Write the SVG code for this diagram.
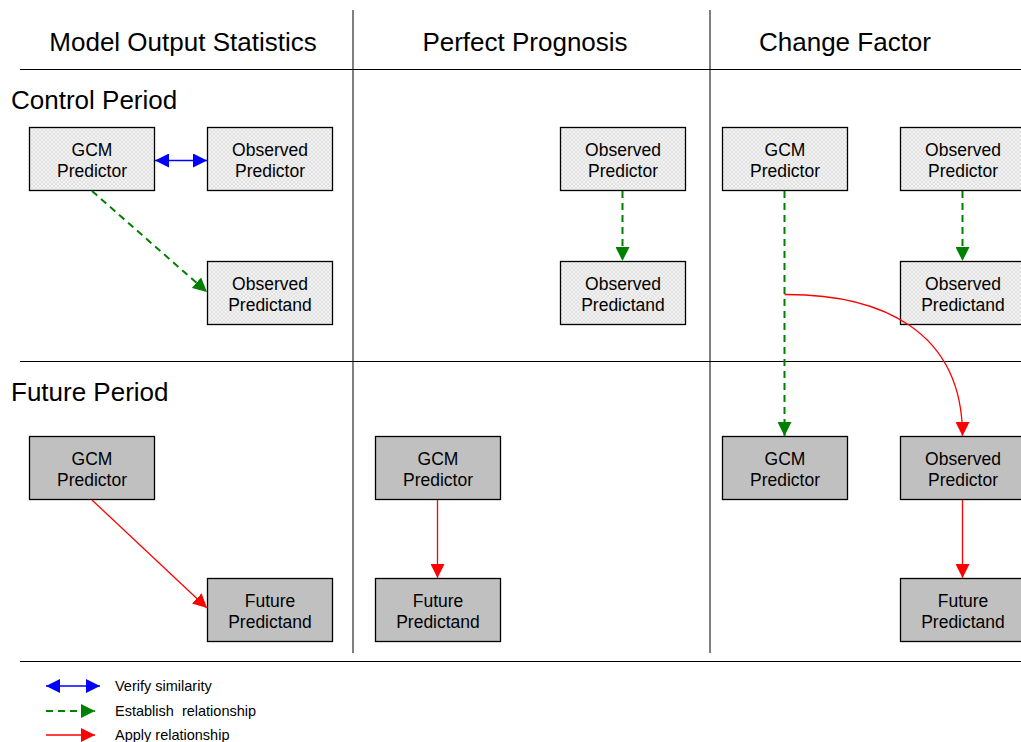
<svg xmlns="http://www.w3.org/2000/svg" width="1021" height="742" viewBox="0 0 1021 742">
<style>
.hdr{font-family:"Liberation Sans",Arial,sans-serif;font-size:26px;fill:#000}
.lbl{font-family:"Liberation Sans",Arial,sans-serif;font-size:17.5px;fill:#000;text-anchor:middle}
.leg{font-family:"Liberation Sans",Arial,sans-serif;font-size:14.5px;fill:#000}
.grid{stroke:#000;stroke-width:1;fill:none}
.ctl{fill:url(#hatch);stroke:#000;stroke-width:1.3}
.fut{fill:#c0c0c0;stroke:#000;stroke-width:1.3}
.blue{stroke:#0000ff;stroke-width:1.5;fill:none}
.green{stroke:#008000;stroke-width:2;stroke-dasharray:7,5;fill:none}
.red{stroke:#ff0000;stroke-width:1.3;fill:none}
</style>
<defs>
<pattern id="hatch" width="4" height="4" patternUnits="userSpaceOnUse">
<rect width="4" height="4" fill="#f2f2f2"/>
<path d="M0,0 L4,4 M4,0 L0,4" stroke="#d6d6d6" stroke-width="0.6"/>
</pattern>
<marker id="ab" viewBox="0 0 10 10" refX="10" refY="5" markerWidth="14" markerHeight="14" markerUnits="userSpaceOnUse" orient="auto-start-reverse"><path d="M0,0 L10,5 L0,10 z" fill="#0000ff"/></marker>
<marker id="ag" viewBox="0 0 10 10" refX="10" refY="5" markerWidth="14" markerHeight="14" markerUnits="userSpaceOnUse" orient="auto"><path d="M0,0 L10,5 L0,10 z" fill="#008000"/></marker>
<marker id="ar" viewBox="0 0 10 10" refX="10" refY="5" markerWidth="14" markerHeight="14" markerUnits="userSpaceOnUse" orient="auto"><path d="M0,0 L10,5 L0,10 z" fill="#ff0000"/></marker>
</defs>
<rect width="1021" height="742" fill="#fff"/>
<g id="grid">
<line class="grid" x1="353" y1="10" x2="353" y2="653"/>
<line class="grid" x1="710" y1="10" x2="710" y2="653"/>
<line class="grid" x1="20" y1="69.5" x2="1021" y2="69.5"/>
<line class="grid" x1="20" y1="361.5" x2="1021" y2="361.5"/>
<line class="grid" x1="20" y1="661.5" x2="1021" y2="661.5"/>
</g>
<g id="headers">
<text class="hdr" x="183" y="51" text-anchor="middle">Model Output Statistics</text>
<text class="hdr" x="525" y="51" text-anchor="middle">Perfect Prognosis</text>
<text class="hdr" x="845" y="51" text-anchor="middle">Change Factor</text>
<text class="hdr" x="11" y="109">Control Period</text>
<text class="hdr" x="11" y="401">Future Period</text>
</g>
<g id="mos-ctl-gcm"><rect class="ctl" x="29.5" y="127.5" width="125" height="63"/><text class="lbl" x="92" y="156">GCM</text><text class="lbl" x="92" y="177">Predictor</text></g>
<g id="mos-ctl-obs"><rect class="ctl" x="207.5" y="127.5" width="125" height="63"/><text class="lbl" x="270" y="156">Observed</text><text class="lbl" x="270" y="177">Predictor</text></g>
<g id="mos-ctl-obsand"><rect class="ctl" x="207.5" y="261.5" width="125" height="63"/><text class="lbl" x="270" y="290">Observed</text><text class="lbl" x="270" y="311">Predictand</text></g>
<g id="pp-ctl-obs"><rect class="ctl" x="560.5" y="127.5" width="125" height="63"/><text class="lbl" x="623" y="156">Observed</text><text class="lbl" x="623" y="177">Predictor</text></g>
<g id="pp-ctl-obsand"><rect class="ctl" x="560.5" y="261.5" width="125" height="63"/><text class="lbl" x="623" y="290">Observed</text><text class="lbl" x="623" y="311">Predictand</text></g>
<g id="cf-ctl-gcm"><rect class="ctl" x="722.5" y="127.5" width="125" height="63"/><text class="lbl" x="785" y="156">GCM</text><text class="lbl" x="785" y="177">Predictor</text></g>
<g id="cf-ctl-obs"><rect class="ctl" x="900.5" y="127.5" width="125" height="63"/><text class="lbl" x="963" y="156">Observed</text><text class="lbl" x="963" y="177">Predictor</text></g>
<g id="cf-ctl-obsand"><rect class="ctl" x="900.5" y="261.5" width="125" height="63"/><text class="lbl" x="963" y="290">Observed</text><text class="lbl" x="963" y="311">Predictand</text></g>
<g id="mos-fut-gcm"><rect class="fut" x="29.5" y="436.5" width="125" height="63"/><text class="lbl" x="92" y="465">GCM</text><text class="lbl" x="92" y="486">Predictor</text></g>
<g id="mos-fut-pred"><rect class="fut" x="207.5" y="578.5" width="125" height="63"/><text class="lbl" x="270" y="607">Future</text><text class="lbl" x="270" y="628">Predictand</text></g>
<g id="pp-fut-gcm"><rect class="fut" x="375.5" y="436.5" width="125" height="63"/><text class="lbl" x="438" y="465">GCM</text><text class="lbl" x="438" y="486">Predictor</text></g>
<g id="pp-fut-pred"><rect class="fut" x="375.5" y="578.5" width="125" height="63"/><text class="lbl" x="438" y="607">Future</text><text class="lbl" x="438" y="628">Predictand</text></g>
<g id="cf-fut-gcm"><rect class="fut" x="722.5" y="436.5" width="125" height="63"/><text class="lbl" x="785" y="465">GCM</text><text class="lbl" x="785" y="486">Predictor</text></g>
<g id="cf-fut-obs"><rect class="fut" x="900.5" y="436.5" width="125" height="63"/><text class="lbl" x="963" y="465">Observed</text><text class="lbl" x="963" y="486">Predictor</text></g>
<g id="cf-fut-pred"><rect class="fut" x="900.5" y="578.5" width="125" height="63"/><text class="lbl" x="963" y="607">Future</text><text class="lbl" x="963" y="628">Predictand</text></g>
<g id="connectors">
<line class="blue" x1="155" y1="160.5" x2="207" y2="160.5" marker-start="url(#ab)" marker-end="url(#ab)"/>
<line class="green" x1="92" y1="191" x2="207" y2="292" marker-end="url(#ag)"/>
<line class="green" x1="622.5" y1="191" x2="622.5" y2="261" marker-end="url(#ag)"/>
<line class="green" x1="784.5" y1="191" x2="784.5" y2="436" marker-end="url(#ag)"/>
<line class="green" x1="962.5" y1="191" x2="962.5" y2="261" marker-end="url(#ag)"/>
<path class="red" d="M784.5,294.5 C880,294 962.5,330 962.5,436" marker-end="url(#ar)"/>
<line class="red" x1="92" y1="500" x2="207" y2="608" marker-end="url(#ar)"/>
<line class="red" x1="437.5" y1="500" x2="437.5" y2="578" marker-end="url(#ar)"/>
<line class="red" x1="962.5" y1="500" x2="962.5" y2="578" marker-end="url(#ar)"/>
</g>
<g id="legend">
<line class="blue" x1="46" y1="686" x2="100" y2="686" marker-start="url(#ab)" marker-end="url(#ab)"/>
<text class="leg" x="115" y="691">Verify similarity</text>
<line class="green" x1="46" y1="711" x2="95" y2="711" marker-end="url(#ag)"/>
<text class="leg" x="115" y="716" xml:space="preserve">Establish  relationship</text>
<line class="red" x1="46" y1="735" x2="95" y2="735" marker-end="url(#ar)"/>
<text class="leg" x="115" y="740">Apply relationship</text>
</g>
</svg>
